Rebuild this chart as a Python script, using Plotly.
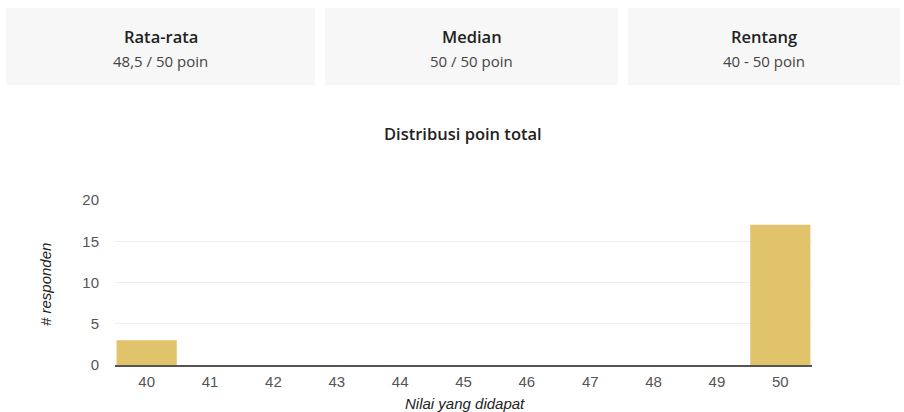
import plotly.graph_objects as go

categories = ["40", "41", "42", "43", "44", "45", "46", "47", "48", "49", "50"]
counts = [3, 0, 0, 0, 0, 0, 0, 0, 0, 0, 17]
y_ticks = [0, 5, 10, 15, 20]

card_titles = ["Rata-rata", "Median", "Rentang"]
card_values = ["48,5 / 50 poin", "50 / 50 poin", "40 - 50 poin"]

W, H = 904, 412

fig = go.Figure()
fig.add_trace(go.Bar(
    x=categories, y=counts,
    marker=dict(color="#e0c36b", line=dict(width=0)),
    hoverinfo="x+y",
))

# cards
card_bounds = [(6, 315), (325, 618), (628, 900)]
for (x0, x1), t, v in zip(card_bounds, card_titles, card_values):
    fig.add_shape(type="rect", xref="paper", yref="paper",
                  x0=x0 / W, x1=x1 / W, y0=1 - 85 / H, y1=1 - 8 / H,
                  fillcolor="#f7f7f7", line=dict(width=0), layer="below")
    cx = (x0 + x1) / 2 / W
    fig.add_annotation(x=cx, y=1 - 37 / H, xref="paper", yref="paper",
                       xanchor="center", yanchor="middle",
                       text=t, showarrow=False,
                       font=dict(family="Open Sans", size=16.5, color="#222222", weight=600))
    fig.add_annotation(x=cx, y=1 - 61 / H, xref="paper", yref="paper",
                       xanchor="center", yanchor="middle",
                       text=v, showarrow=False,
                       font=dict(family="Open Sans", size=15, color="#444444"))

fig.add_annotation(x=463 / W, y=1 - 133 / H, xref="paper", yref="paper",
                   xanchor="center", yanchor="middle",
                   text="Distribusi poin total", showarrow=False,
                   font=dict(family="Open Sans", size=16.5, color="#222222", weight=600))
fig.add_annotation(x=465 / W, y=1 - 403 / H, xref="paper", yref="paper",
                   xanchor="center", yanchor="middle",
                   text="<i>Nilai yang didapat</i>", showarrow=False,
                   font=dict(family="Liberation Sans", size=15, color="#222222"))
fig.add_annotation(x=45 / W, y=1 - 285 / H, xref="paper", yref="paper",
                   xanchor="center", yanchor="middle",
                   text="<i># responden</i>", showarrow=False, textangle=-90,
                   font=dict(family="Liberation Sans", size=15, color="#222222"))

fig.update_layout(
    width=W, height=H,
    margin=dict(l=0, r=0, t=0, b=0, pad=0),
    paper_bgcolor="white", plot_bgcolor="white",
    showlegend=False,
    bargap=0.05,
    font=dict(family="Liberation Sans", size=15, color="#444444"),
    xaxis=dict(domain=[115 / W, 812 / W], type="category", automargin=False,
               range=[-0.5, 10.5], showgrid=False, ticks="",
               ticklabelstandoff=2,
               showline=True, linecolor="#555555", linewidth=1.5,
               tickfont=dict(size=15, color="#555555"), fixedrange=True),
    yaxis=dict(domain=[1 - 365 / H, 1 - 200 / H], range=[0, 20], automargin=False,
               tickvals=y_ticks, showgrid=True, gridcolor="#eeeeee",
               zeroline=False, showline=False, ticks="outside",
               ticklen=12, tickcolor="rgba(0,0,0,0)",
               tickfont=dict(size=15, color="#555555"), fixedrange=True),
)

fig.write_html("out.html")
